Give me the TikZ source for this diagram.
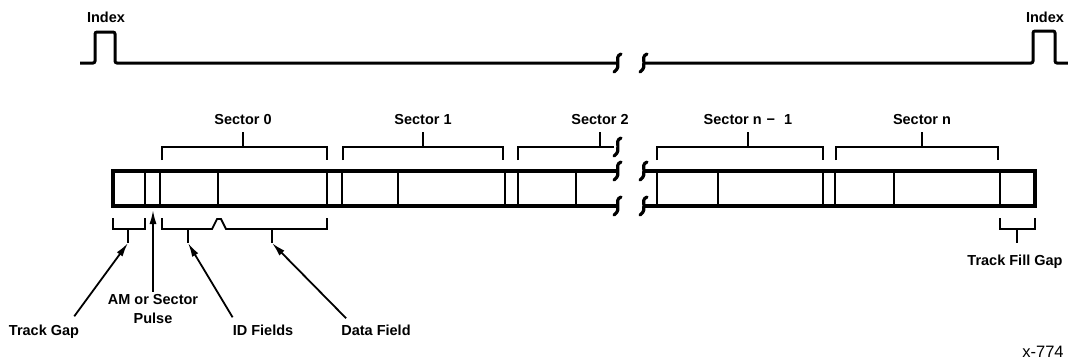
\documentclass[tikz,border=0pt]{standalone}
\usepackage{fontspec}
\setmainfont{Liberation Sans}
\usetikzlibrary{arrows.meta,calc}
\tikzset{wave/.style={
            line width=3pt,
            rounded corners=2pt
        },
        track/.style={
            line width=4pt,
            line join=miter
        },
        divider/.style={
            line width=2.8pt
        },
        bracket/.style={
            line width=1.8pt,
            line join=miter
        },
        pointer/.style={
            line width=1.8pt,
            -{Latex[length=14pt,width=7pt]}
        },
        label/.style={
            font=\fontsize{14.5}{19}\selectfont\bfseries,
            inner sep=0pt,
            align=center,
            anchor=base
        },
        brkmark/.pic={
            \draw[line width=3.2pt,line cap=round] (4,-9) .. controls (-4,-6) and (6,3) .. (-3,9);
        }
    }

\begin{document}
\begin{tikzpicture}
        [x=1pt,y=-1pt]

        \useasboundingbox (0,0) rectangle (1068,360);

        % index pulses
        \draw[wave] (80,63) -- (95,63) -- (95,32) -- (115,32) -- (115,63) -- (617,63);
        \draw[wave] (643,63) -- (1033,63) -- (1033,31) -- (1055,31) -- (1055,63) -- (1070,63);
        \pic at (617,63) {brkmark};
        \pic at (643,63) {brkmark};
        \node[label] (idxa) at (106,22) {Index};
        \node[label] (idxb) at (1045,22) {Index};

        % track
        \draw[track] (617,171) -- (113,171) -- (113,206) -- (617,206);
        \draw[track] (643,171) -- (1035,171) -- (1035,206) -- (643,206);
        \foreach \x in {145,160,218,327,342,398,505,518,576,657,718,823,835,894,1000}
            \draw[divider] (\x,171) -- (\x,206);
        \foreach \y in {171,206} {
            \pic at (617,\y) {brkmark};
            \pic at (643,\y) {brkmark};
        }

        % sectors
        \foreach \l/\r/\s/\nm/\txt in {162/327/243/sz/{Sector 0},
                                      343/503/423/so/{Sector 1},
                                      657/823/748/snm/{Sector n\hspace{5pt}\textminus\hspace{9pt}1},
                                      836/998/922/sn/{Sector n}} {
            \draw[bracket] (\l,160) |- (\r,147) -- (\r,160);
            \draw[bracket] (\s,147) -- (\s,132);
            \node[label] (\nm) at (\s,124) {\txt};
        }
        \draw[bracket] (518,160) |- (614,147);
        \draw[bracket] (600,147) -- (600,132);
        \pic at (617,147) {brkmark};
        \node[label] (stw) at (600,124) {Sector 2};

        % field brackets
        \draw[bracket] (113,218) |- (145,229) -- (145,218);
        \draw[bracket] (162,218) |- (212,229) -- (217,219) -- (221,219) -- (226,229) -| (327,218);
        \draw[bracket] (1000,218) |- (1035,229) -- (1035,218);
        \draw[bracket] (128,229) -- (128,243) coordinate (gapend);
        \draw[bracket] (188,229) -- (188,243) coordinate (idend);
        \draw[bracket] (272,229) -- (272,243) coordinate (dataend);
        \draw[bracket] (1017,229) -- (1017,243);
        \coordinate (amtip) at (153,210);

        \node[label] (tg) at (44,335) {Track Gap};
        \node[label] (am) at (153,323) {AM or Sector\\Pulse};
        \node[label] (idf) at (263,335) {ID Fields};
        \node[label] (dat) at (376,335) {Data Field};
        \node[label] (tfg) at (1015,265) {Track Fill Gap};
        \node[font=\fontsize{16.5}{18}\selectfont,inner sep=0pt,anchor=base] (fig) at (1043,357) {x-774};

        \draw[pointer] ($(tg.north east)+(-5,-8)$) -- (gapend);
        \draw[pointer] ($(am.north)+(0,-2)$) -- (amtip);
        \draw[pointer] ($(idf.north west)+(0,-7)$) -- (idend);
        \draw[pointer] ($(dat.north west)+(5,-6)$) -- (dataend);

    \end{tikzpicture}
\end{document}
